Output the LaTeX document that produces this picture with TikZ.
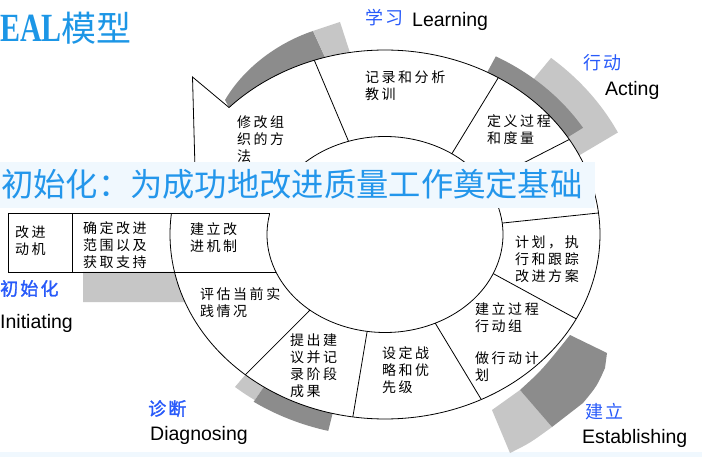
\documentclass[tikz,border=0pt]{standalone}
\usepackage{fontspec}
\setmainfont{Liberation Sans}
\newfontfamily\cjk{Noto Sans CJK SC}
\newfontfamily\cjksp[LetterSpace=18]{Noto Sans CJK SC}
\newfontfamily\cjklab[LetterSpace=12]{Noto Sans CJK SC}
\newfontfamily\cjkbd[LetterSpace=12,FakeBold=1.5]{Noto Sans CJK SC}
\newfontfamily\serifbd{Liberation Serif}
\usetikzlibrary{patterns}
\definecolor{titleblue}{RGB}{28,150,230}
\definecolor{bannerblue}{RGB}{35,150,235}
\definecolor{labelblue}{RGB}{40,90,250}
\definecolor{bannerbg}{RGB}{240,248,254}
\definecolor{darkshade}{RGB}{140,140,140}
\definecolor{lightshade}{RGB}{198,198,198}
\tikzset{
  ring/.style={draw=black, line width=0.8pt},
  dk/.style={fill=darkshade},
  lt/.style={fill=lightshade},
  cell/.style={anchor=north west, inner sep=0pt, align=left, font=\cjksp\fontsize{14}{17}\selectfont},
  cnlab/.style={anchor=north west, inner sep=0pt, text=labelblue, font=\cjklab\fontsize{18}{20}\selectfont},
  cnlabb/.style={anchor=north west, inner sep=0pt, text=labelblue, font=\cjkbd\fontsize{18}{20}\selectfont},
  enlab/.style={anchor=base west, inner sep=0pt, font=\fontsize{19.5}{22}\selectfont}
}
\begin{document}
\begin{tikzpicture}[x=1pt,y=-1pt]
\useasboundingbox (0,0) rectangle (702,457);
\fill[white] (0,0) rectangle (702,457);
\fill[bannerbg] (0,452) rectangle (702,457);
\coordinate (C) at (385,234.5);

% ---- shaded bands ----
% Learning (top-left)
\fill[dk] ([shift={(223.5:215 and 184.5)}]C) arc[start angle=223.5,end angle=253.8,x radius=215,y radius=184.5]
  -- (313,31) .. controls (280,42) and (245,66) .. (225,100) -- cycle;
\fill[lt] ([shift={(253.8:215 and 184.5)}]C) -- (313,31) -- (340,22) -- ([shift={(260.6:215 and 184.5)}]C)
  arc[start angle=260.6,end angle=253.8,x radius=215,y radius=184.5] -- cycle;
% Acting (top-right)
\fill[lt] ([shift={(309.7:215 and 184.5)}]C) arc[start angle=309.7,end angle=334.6,x radius=215,y radius=184.5]
  -- ([shift={(333.6:260 and 229.5)}]C) arc[start angle=333.6,end angle=309.7,x radius=260,y radius=229.5] -- cycle;
\fill[dk] ([shift={(298.4:215 and 184.5)}]C) arc[start angle=298.4,end angle=328.2,x radius=215,y radius=184.5]
  -- ([shift={(328.2:233 and 202.5)}]C) arc[start angle=328.2,end angle=298.4,x radius=233,y radius=202.5] -- cycle;
% Establishing (bottom-right)
\fill[lt] (520,390) -- (492,410) -- (510,453) .. controls (530,443) .. (552,427) -- cycle;
\fill[dk] (570,335) -- (607,353) -- (605,368) .. controls (597,386) .. (583,403) -- (552,427) -- (520,390)
  .. controls (542,370) .. (570,335) -- cycle;
% Diagnosing (bottom-left)
\fill[lt] ([shift={(124.3:215 and 184.5)}]C) arc[start angle=124.3,end angle=130.5,x radius=215,y radius=184.5]
  -- ([shift={(130.5:231 and 200.5)}]C) arc[start angle=130.5,end angle=124.3,x radius=231,y radius=200.5] -- cycle;
\fill[dk] ([shift={(104.1:215 and 184.5)}]C) arc[start angle=104.1,end angle=124.3,x radius=215,y radius=184.5]
  -- ([shift={(124.3:233 and 202.5)}]C) arc[start angle=124.3,end angle=104.1,x radius=233,y radius=202.5] -- cycle;
% Initiating (left)
\fill[lt] (83,272) -- ([shift={(168.3:215 and 184.5)}]C) arc[start angle=168.3,end angle=158.5,x radius=215,y radius=184.5]
  -- (83,302) -- cycle;

% ---- ring ----
\draw[ring] ([shift={(223.5:215 and 184.5)}]C) arc[start angle=223.5,end angle=546.6,x radius=215,y radius=184.5];
\draw[ring] ([shift={(196:118 and 98)}]C) arc[start angle=196,end angle=552,x radius=118,y radius=98];
\coordinate (n1) at ([shift={(223.5:215 and 184.5)}]C);
\coordinate (n2) at (192.5,77);
\coordinate (n3) at (196,205);
\draw[ring] (n1) -- (n2) -- (n3);
\foreach \ao/\ai in {250.8/252, 301.8/304.5, 329/328, 353.3/353.3, 27.2/23.5, 63.4/64.8, 98.6/98.7, 130.5/129.5}
  \draw[ring] ([shift={(\ao:215 and 184.5)}]C) -- ([shift={(\ai:118 and 98)}]C);
% entry band
\coordinate (b1) at (8,213.5);
\coordinate (b2) at (269.7,213.5);
\coordinate (b3) at (276,272);
\coordinate (b4) at (8,272);
\coordinate (b5) at (72.5,213.5);
\coordinate (b6) at (72.5,272);
\draw[ring] (b2) -- (b1) -- (b4) -- (b3);
\draw[ring] (b5) -- (b6);

% ---- cell texts ----
\node[cell] (c1) at (237,116) {修改组\\织的方\\法};
\node[cell] (c2) at (365,71) {记录和分析\\教训};
\node[cell] (c3) at (487,114) {定义过程\\和度量};
\node[cell] (c4) at (15,226) {改进\\动机};
\node[cell] (c5) at (83,221) {确定改进\\范围以及\\获取支持};
\node[cell] (c6) at (190,222) {建立改\\进机制};
\node[cell] (c7) at (200,287) {评估当前实\\践情况};
\node[cell] (c8) at (290,334) {提出建\\议并记\\录阶段\\成果};
\node[cell] (c9) at (382,346) {设定战\\略和优\\先级};
\node[cell] (c10) at (475,302) {建立过程\\行动组};
\node[cell] (c11) at (475,352) {做行动计\\划};
\node[cell] (c12) at (515,236) {计划，执\\行和跟踪\\改进方案};

% ---- phase labels ----
\node[cnlab] (l1) at (365,9) {学习};
\node[enlab] (l2) at (412,27) {Learning};
\node[cnlab] (l3) at (583,54) {行动};
\node[enlab] (l4) at (605,96) {Acting};
\node[cnlabb] (l5) at (0,280) {初始化};
\node[enlab] (l6) at (0,328) {Initiating};
\node[cnlabb] (l7) at (148,400) {诊断};
\node[enlab] (l8) at (150,440) {Diagnosing};
\node[cnlab] (l9) at (585,403) {建立};
\node[enlab] (l10) at (582,443) {Establishing};

% ---- title ----
\node[anchor=base west, inner sep=0pt, text=titleblue] (ttl) at (0,42)
  {\scalebox{0.75}[1]{\serifbd\bfseries\fontsize{40}{44}\selectfont EAL}\cjk\fontsize{35}{38}\selectfont 模型};

% ---- banner ----
\fill[bannerbg] (0,162) rectangle (595,208.5);
\node[anchor=base west, inner sep=0pt, text=bannerblue, font=\cjk\fontsize{32.3}{36}\selectfont] (ban) at (1,197)
  {初始化：为成功地改进质量工作奠定基础};
\end{tikzpicture}
\end{document}
